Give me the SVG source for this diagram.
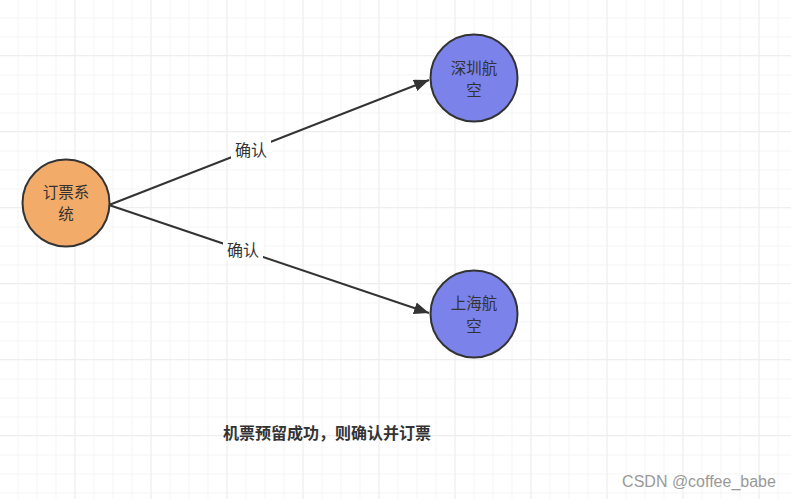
<svg xmlns="http://www.w3.org/2000/svg" width="791" height="499" viewBox="0 0 791 499">
<defs>
<pattern id="minor" x="-0.5" y="-0.5" width="19" height="19" patternUnits="userSpaceOnUse">
<path d="M19 0V19M0 19H19" fill="none" stroke="#f3f3f3" stroke-width="1.5"/>
</pattern>
<pattern id="major" x="-0.5" y="-20" width="76" height="76" patternUnits="userSpaceOnUse">
<path d="M76 0V76M0 76H76" fill="none" stroke="#ebebeb" stroke-width="1.5"/>
</pattern>
<marker id="arr" markerWidth="16" markerHeight="12" refX="15" refY="6" orient="auto" markerUnits="userSpaceOnUse">
<path d="M0,0 L15,6 L0,12 z" fill="#333"/>
</marker>
</defs>
<style>
.node{stroke:#333;stroke-width:2}
.t{font-family:"Noto Sans CJK SC","Liberation Sans",sans-serif;font-size:15.5px;fill:#333;text-anchor:middle}
.edge{stroke:#333;stroke-width:2;fill:none}
.lbl{font-family:"Noto Sans CJK SC","Liberation Sans",sans-serif;font-size:16px;fill:#333;text-anchor:middle}
</style>
<rect width="791" height="499" fill="#fff"/>
<rect width="791" height="499" fill="url(#minor)"/>
<rect width="791" height="499" fill="url(#major)"/>
<g id="connectors">
<path class="edge" d="M109,205 L429,80" marker-end="url(#arr)"/>
<path class="edge" d="M109,205 L429,313" marker-end="url(#arr)"/>
<rect x="231" y="140" width="40" height="21" fill="#fff"/>
<text class="lbl" x="251" y="156">确认</text>
<rect x="223" y="240" width="40" height="21" fill="#fff"/>
<text class="lbl" x="243" y="256">确认</text>
</g>
<g id="order">
<circle class="node" cx="66" cy="203" r="43.5" fill="#F2AB68"/>
<text class="t" x="66" y="197.75">订票系</text>
<text class="t" x="66" y="220.25">统</text>
</g>
<g id="shenzhen">
<circle class="node" cx="474" cy="78" r="43.5" fill="#7B83EB"/>
<text class="t" x="474" y="73.75">深圳航</text>
<text class="t" x="474" y="96.25">空</text>
</g>
<g id="shanghai">
<circle class="node" cx="474" cy="314" r="43.5" fill="#7B83EB"/>
<text class="t" x="474" y="309.25">上海航</text>
<text class="t" x="474" y="331.75">空</text>
</g>
<text x="327" y="439" font-family="Noto Sans CJK SC,Liberation Sans,sans-serif" font-size="16" font-weight="bold" fill="#333" text-anchor="middle">机票预留成功，则确认并订票</text>
<text x="699" y="487" font-family="Liberation Sans,Arial,sans-serif" font-size="16" fill="#999" text-anchor="middle">CSDN @coffee_babe</text>
</svg>
